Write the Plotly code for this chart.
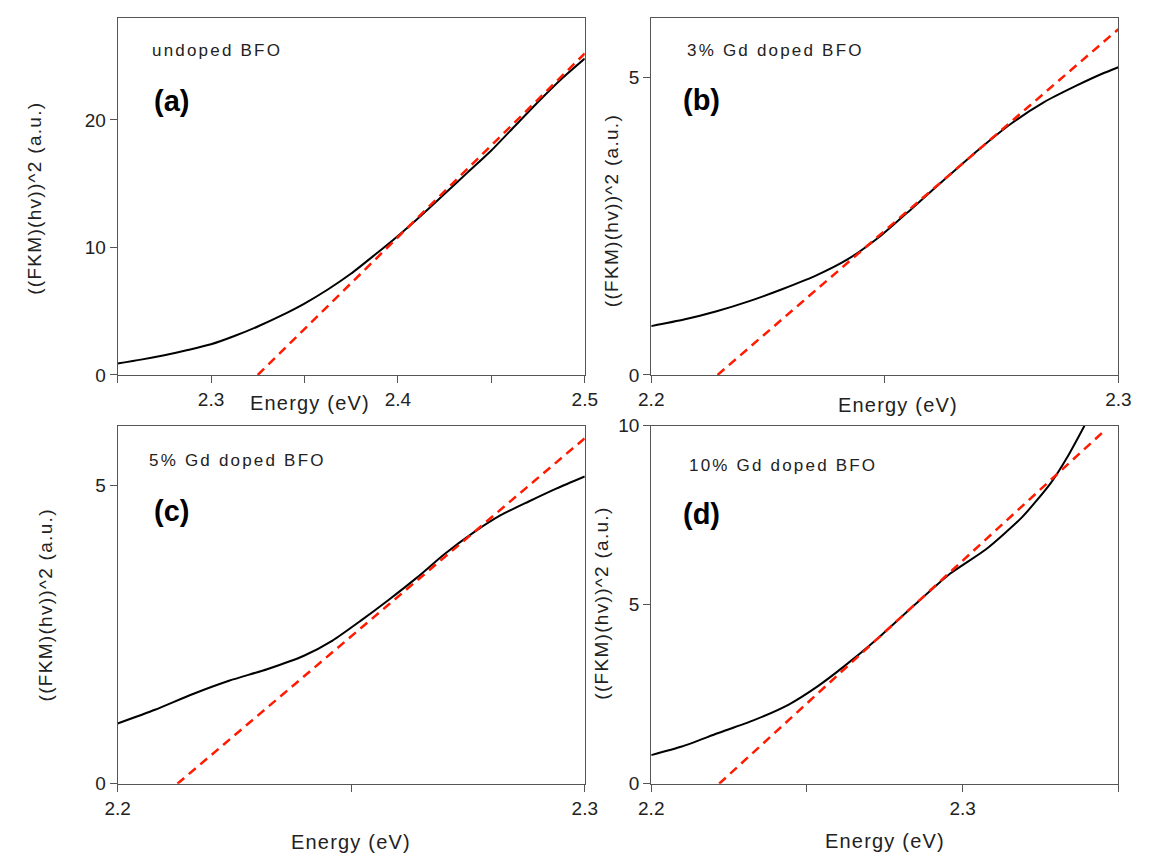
import plotly.graph_objects as go

# ---------------- data ----------------
energy_a = [2.25, 2.2625, 2.275, 2.2875, 2.3, 2.3125, 2.325, 2.3375, 2.35, 2.3625,
            2.375, 2.3875, 2.4, 2.4125, 2.425, 2.4375, 2.45, 2.4625, 2.475, 2.4875, 2.5]
signal_a = [0.9, 1.2, 1.55, 1.95, 2.4, 3.05, 3.8, 4.65, 5.6, 6.7,
            7.95, 9.4, 10.9, 12.5, 14.2, 15.9, 17.6, 19.5, 21.4, 23.2, 24.8]
fit_x_a = [2.325, 2.5]
fit_y_a = [0.0, 25.2]

energy_b = [2.2, 2.207, 2.214, 2.221, 2.228, 2.235, 2.242, 2.249, 2.256, 2.263,
            2.27, 2.277, 2.284, 2.291, 2.2965, 2.3]
signal_b = [0.82, 0.93, 1.07, 1.24, 1.44, 1.66, 1.94, 2.33, 2.81, 3.30,
            3.78, 4.22, 4.58, 4.86, 5.06, 5.17]
fit_x_b = [2.2142, 2.3]
fit_y_b = [0.0, 5.81]

energy_c = [2.2, 2.208, 2.216, 2.224, 2.232, 2.24, 2.246, 2.252, 2.258, 2.264,
            2.27, 2.276, 2.282, 2.288, 2.294, 2.3]
signal_c = [1.01, 1.24, 1.50, 1.73, 1.92, 2.15, 2.40, 2.73, 3.08, 3.45,
            3.85, 4.20, 4.50, 4.73, 4.95, 5.15]
fit_x_c = [2.2128, 2.3]
fit_y_c = [0.0, 5.79]

energy_d = [2.2, 2.2098, 2.2213, 2.2328, 2.2443, 2.2534, 2.2615, 2.273, 2.2845,
            2.296, 2.3075, 2.319, 2.3282, 2.3339, 2.3391]
signal_d = [0.80, 1.04, 1.41, 1.77, 2.22, 2.72, 3.25, 4.08, 4.99,
            5.87, 6.55, 7.44, 8.39, 9.17, 10.0]
fit_x_d = [2.2218, 2.3454]
fit_y_d = [0.0, 9.85]

sample_labels = ["undoped BFO", "3% Gd doped BFO", "5% Gd doped BFO", "10% Gd doped BFO"]
panel_letters = ["(a)", "(b)", "(c)", "(d)"]
x_title = "Energy (eV)"
y_title = "((FKM)(hv))^2 (a.u.)"

x_ranges = [[2.25, 2.5], [2.2, 2.3], [2.2, 2.3], [2.2, 2.35]]
y_ranges = [[0, 28], [0, 6], [0, 6], [0, 10]]
y_dticks = [10, 5, 5, 5]

# ---------------- figure ----------------
W, H = 1150, 867
FONT = "Arial, Liberation Sans, sans-serif"
TXT = "#222222"
AX = "#555555"


def spaced(text, px):
    return '<span style="letter-spacing:%spx">%s</span>' % (px, text)


curves = [(energy_a, signal_a, fit_x_a, fit_y_a),
          (energy_b, signal_b, fit_x_b, fit_y_b),
          (energy_c, signal_c, fit_x_c, fit_y_c),
          (energy_d, signal_d, fit_x_d, fit_y_d)]

# plot-area pixel boxes: (left, right, top, bottom)
boxes = [(107, 585, 8, 374), (653, 1131, 8, 374),
         (107, 585, 426, 793), (653, 1131, 426, 793)]

fig = go.Figure()
layout = dict(width=W, height=H, margin=dict(l=0, r=0, t=0, b=0),
              paper_bgcolor="white", plot_bgcolor="white", showlegend=False,
              font=dict(family=FONT, color=TXT, size=18))

annotations = []
for i, (ex, sy, fx, fy) in enumerate(curves):
    n = "" if i == 0 else str(i + 1)
    xa, ya = "x" + n, "y" + n
    fig.add_trace(go.Scatter(x=ex, y=sy, mode="lines", xaxis=xa, yaxis=ya,
                             line=dict(color="black", width=2, shape="spline", smoothing=0.6)))
    fig.add_trace(go.Scatter(x=fx, y=fy, mode="lines", xaxis=xa, yaxis=ya,
                             line=dict(color="#ff1a00", width=2.5, dash="9px,6px")))
    l, r, t, b = boxes[i]
    layout["xaxis" + n] = dict(
        domain=[l / W, r / W], anchor=ya, range=x_ranges[i], dtick=0.1, tick0=2.2,
        showgrid=False, zeroline=False, showline=True, linecolor=AX, linewidth=1, mirror=True,
        ticks="outside", ticklen=7, tickcolor=AX, tickwidth=1,
        minor=dict(dtick=0.05, tick0=2.2, ticks="outside", ticklen=7, tickcolor=AX, showgrid=False),
        tickfont=dict(size=19, color=TXT), tickformat=".1f")
    layout["yaxis" + n] = dict(
        domain=[1 - b / H, 1 - t / H], anchor=xa, range=y_ranges[i], dtick=y_dticks[i],
        showgrid=False, zeroline=False, showline=True, linecolor=AX, linewidth=1, mirror=True,
        ticks="outside", ticklen=7, tickcolor=AX, tickwidth=1,
        tickfont=dict(size=19, color=TXT))

# text positions (pixels)
label_pos = [(140, 41), (688, 42), (137, 462), (690, 467)]
letter_pos = [(142, 93), (683, 92), (142, 513), (683, 517)]
xtitle_pos = [(304, 403), (905, 405), (346, 853), (892, 852)]
ytitle_pos = [(22, 193), (612, 206), (33, 610), (602, 608)]

for i in range(4):
    lx, ly = label_pos[i]
    annotations.append(dict(text=spaced(sample_labels[i], 2.2), x=lx / W, y=1 - ly / H,
                            xref="paper", yref="paper", xanchor="left", yanchor="middle",
                            showarrow=False, font=dict(size=17, color=TXT, family=FONT)))
    px, py = letter_pos[i]
    annotations.append(dict(text="<b>" + panel_letters[i] + "</b>", x=px / W, y=1 - py / H,
                            xref="paper", yref="paper", xanchor="left", yanchor="middle",
                            showarrow=False, font=dict(size=29, color="black", family=FONT)))
    tx, ty = xtitle_pos[i]
    annotations.append(dict(text=spaced(x_title, 1.2), x=tx / W, y=1 - ty / H,
                            xref="paper", yref="paper", xanchor="center", yanchor="middle",
                            showarrow=False, font=dict(size=20, color=TXT, family=FONT)))
    vx, vy = ytitle_pos[i]
    annotations.append(dict(text=spaced(y_title, 1.3), x=vx / W, y=1 - vy / H,
                            xref="paper", yref="paper", xanchor="center", yanchor="middle",
                            showarrow=False, textangle=-90,
                            font=dict(size=19, color=TXT, family=FONT)))

layout["annotations"] = annotations
fig.update_layout(**layout)
fig.write_html("out.html", config={"displayModeBar": False},
               post_script="document.body.style.margin='0';document.body.style.overflow='hidden';"
                           "document.documentElement.style.overflow='hidden';")
